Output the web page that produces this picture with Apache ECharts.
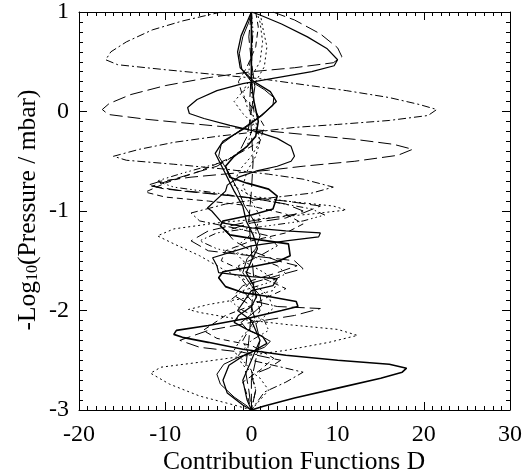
<!DOCTYPE html>
<html>
<head>
<meta charset="utf-8">
<script src="https://cdn.jsdelivr.net/npm/echarts@6/dist/echarts.min.js"></script>
<style>
html,body{margin:0;padding:0;background:#fff;}
#c{width:532px;height:476px;}
</style>
</head>
<body>
<div id="c"></div>
<script>
// ---- data: [x (contribution), y (-log10 pressure)] ----
const xTicks = [-20, -10, 0, 10, 20, 30];
const yTicks = [-3, -2, -1, 0, 1];

const solidA = [[0,-3],[1.5,-2.96],[5,-2.88],[10,-2.78],[15,-2.68],[17.5,-2.62],[18,-2.58],[16,-2.54],[10,-2.5],[4,-2.45],[-1,-2.39],[-5,-2.32],[-8,-2.27],[-9,-2.24],[-8.7,-2.2],[-5,-2.15],[0,-2.07],[3.5,-2.0],[5.4,-1.96],[5.2,-1.91],[2,-1.86],[-1,-1.82],[-3,-1.76],[-3.8,-1.67],[-3.3,-1.61],[0,-1.56],[3,-1.51],[4.5,-1.45],[4.3,-1.33],[1,-1.29],[-2.5,-1.24],[-3.6,-1.15],[-3.3,-1.1],[0,-1.04],[2.5,-0.98],[3,-0.85],[2,-0.78],[-0.5,-0.72],[-2.5,-0.66],[-3,-0.55],[-2,-0.45],[-0.5,-0.35],[0.5,-0.25],[0.8,-0.1],[0.3,0.1],[0,0.3],[0,1]];
const solidB = [[0,1],[1,0.97],[3.5,0.88],[6.5,0.75],[8.8,0.63],[10,0.52],[9.6,0.46],[7,0.4],[3,0.34],[-1,0.28],[-4,0.21],[-6.3,0.12],[-7.4,0.04],[-7.2,-0.02],[-5.5,-0.07],[-2.5,-0.14],[0.5,-0.2],[3,-0.27],[4.6,-0.35],[5,-0.45],[4.6,-0.5],[3,-0.55],[0.5,-0.6],[-1.5,-0.66],[-2.8,-0.74],[-3,-0.8],[-5.1,-0.97],[-4.6,-1.0],[-3.4,-1.12],[0,-1.17],[4,-1.2],[8,-1.22],[7.8,-1.26],[4,-1.3],[0,-1.35],[-4.5,-1.47],[-4,-1.55],[-3.8,-1.62],[0,-1.66],[3,-1.68],[2.5,-1.75],[0,-1.8],[-1.6,-2.0],[0,-2.1],[1,-2.3],[0,-2.5],[-1,-2.7],[-0.5,-2.9],[0,-3]];
const solidC = [[0,-3],[-0.5,-2.96],[-2,-2.87],[-3.6,-2.74],[-4,-2.64],[-3.2,-2.54],[-1.5,-2.47],[0,-2.42],[1.5,-2.37],[2.2,-2.31],[1,-2.25],[-0.5,-2.19],[-1.2,-2.12],[0,-2.04],[1.2,-1.95],[1,-1.85],[0,-1.75],[-1,-1.62],[-0.5,-1.48],[0.5,-1.38],[1,-1.25],[0.3,-1.1],[-0.8,-0.95],[-1.5,-0.8],[-2.6,-0.62],[-3.8,-0.45],[-3.5,-0.33],[-1.5,-0.2],[0.8,-0.06],[2.5,0.06],[2.6,0.14],[1.5,0.22],[0,0.3],[-1.1,0.42],[-1.4,0.58],[-1.0,0.75],[-0.3,0.9],[0,1]];
const solidD = [[0,-3],[-1,-2.95],[-2.8,-2.83],[-3.3,-2.7],[-2.6,-2.55],[-1,-2.46],[0.4,-2.4],[1.8,-2.33],[1.3,-2.26],[-0.3,-2.2],[-2,-2.12],[-1.5,-2.05],[0,-1.96],[0.6,-1.86],[0.2,-1.74],[-0.6,-1.62],[0,-1.5],[0.7,-1.38],[0.2,-1.24],[-0.6,-1.1],[-1,-0.95],[-2,-0.8],[-2.8,-0.66],[-4.2,-0.42],[-3.3,-0.3],[-1,-0.18],[1.2,-0.04],[2.9,0.1],[2.2,0.2],[0.3,0.3],[-1.3,0.44],[-1.6,0.6],[-1.2,0.76],[-0.4,0.92],[0,1]];
const longDashA = [[2.5,1],[5,0.92],[8,0.78],[10,0.64],[10.5,0.55],[9.5,0.49],[5,0.44],[0,0.4],[-5,0.34],[-10,0.26],[-14,0.17],[-16.5,0.08],[-17.3,0.02],[-16.6,-0.03],[-12,-0.08],[-6,-0.13],[0,-0.18],[6,-0.23],[12,-0.28],[16.5,-0.33],[18.7,-0.38],[17,-0.44],[12,-0.5],[6,-0.55],[2,-0.59],[-2,-0.62],[-7,-0.66],[-10.5,-0.7],[-12,-0.74],[-10,-0.78],[-5,-0.82],[0,-0.87],[4,-0.93],[6,-1.0],[4,-1.07],[0,-1.12],[-3,-1.2],[-2,-1.3],[0,-1.4],[3,-1.5],[5.3,-1.55],[3,-1.62],[0,-1.7],[-1,-1.8],[0,-1.9],[3,-1.96],[8,-1.98],[5,-2.05],[0,-2.12],[-5,-2.2],[-8.3,-2.3],[-6,-2.37],[-1,-2.42],[3.4,-2.5],[2,-2.58],[0,-2.65],[0.5,-2.8],[0,-3]];
const dashDotA = [[-3.5,1],[-5.5,0.96],[-8,0.91],[-11.5,0.82],[-14.5,0.7],[-16.3,0.6],[-16.9,0.52],[-15.5,0.47],[-10,0.42],[-4,0.37],[1,0.33],[6,0.27],[11,0.21],[16,0.14],[19.5,0.07],[21.5,0.02],[20.5,-0.04],[16,-0.09],[10,-0.13],[5,-0.16],[1,-0.2],[-4,-0.25],[-9,-0.31],[-13,-0.38],[-16,-0.45],[-14.5,-0.49],[-9,-0.53],[-3,-0.58],[2,-0.63],[6,-0.68],[9.5,-0.76],[7,-0.82],[2,-0.87],[-3,-0.93],[-7,-1.02],[-6,-1.1],[-2,-1.17],[2,-1.25],[3,-1.35],[1,-1.45],[-1.5,-1.55],[-1,-1.7],[0.5,-1.85],[1,-2.0],[0,-2.15],[-1,-2.3],[0,-2.5],[3,-2.56],[6,-2.62],[4,-2.72],[1.5,-2.82],[0,-3]];
const dashB = [[0.5,1],[0.8,0.85],[0.5,0.65],[-0.5,0.45],[-1.5,0.3],[-1,0.15],[0.5,0],[1.5,-0.15],[1,-0.3],[-2,-0.45],[-6,-0.6],[-10,-0.72],[-12.3,-0.81],[-10,-0.86],[-5,-0.9],[0,-0.95],[4,-1.03],[6,-1.13],[4,-1.22],[0,-1.3],[-3,-1.4],[-3.5,-1.5],[-1,-1.6],[2,-1.7],[4,-1.78],[2,-1.86],[0,-1.95],[-3,-2.05],[-5.6,-2.2],[-4,-2.28],[0,-2.35],[2.6,-2.48],[1,-2.6],[-1,-2.72],[-0.5,-2.85],[0,-3]];
const dashC = [[0,1],[-0.3,0.75],[0,0.5],[0.4,0.25],[0,0],[-0.5,-0.25],[-1.5,-0.42],[-4,-0.55],[-9,-0.68],[-11.5,-0.75],[-8,-0.8],[-2,-0.85],[4,-0.9],[8,-0.95],[6,-1.02],[0,-1.1],[-5,-1.2],[-7,-1.3],[-5,-1.4],[0,-1.45],[5,-1.5],[6,-1.58],[3,-1.65],[-1,-1.75],[-2,-1.85],[0,-1.95],[1,-2.3],[0,-2.7],[0,-3]];
const dotA = [[0,-3],[-2,-2.95],[-6,-2.86],[-9.5,-2.74],[-11.7,-2.63],[-10.5,-2.57],[-6,-2.52],[-1,-2.46],[4,-2.4],[9,-2.32],[12.3,-2.25],[10,-2.19],[4,-2.14],[-2,-2.08],[-6,-2.02],[-7.3,-1.99],[-5,-1.94],[-1,-1.88],[2.5,-1.8],[3,-1.72],[1.5,-1.62],[-1,-1.5],[-2,-1.4],[-1,-1.3],[0.5,-1.2],[1,-1.05],[0,-0.9],[-1,-0.75],[-0.5,-0.6],[0.5,-0.45],[1,-0.3],[0.5,-0.1],[-0.5,0.05],[-1,0.2],[0,0.35],[1,0.5],[1.3,0.7],[1,0.9],[0.6,1]];
const dotB = [[0,-3],[1,-2.9],[2,-2.8],[1,-2.68],[-1,-2.55],[-2,-2.4],[-1,-2.25],[1,-2.1],[2.5,-1.98],[2,-1.85],[0,-1.72],[-3,-1.6],[-6,-1.45],[-9,-1.33],[-10.9,-1.25],[-9,-1.18],[-4,-1.12],[2,-1.07],[7,-1.03],[11,-0.99],[9.5,-0.95],[4,-0.9],[0,-0.85],[-2,-0.75],[-1.5,-0.6],[0,-0.45],[1,-0.3],[0.5,-0.15],[-1,-0.02],[-2,0.1],[-1,0.2],[0.5,0.3],[1.5,0.45],[1.8,0.65],[1.3,0.85],[1,1]];
const dashDotDotA = [[0,1],[0.2,0.8],[0,0.6],[-0.3,0.4],[0,0.2],[0.3,0],[0,-0.2],[-0.5,-0.35],[-3,-0.5],[-8,-0.62],[-11,-0.7],[-9,-0.76],[-4,-0.82],[2,-0.9],[7,-0.98],[8.5,-1.04],[6,-1.1],[1,-1.16],[-4,-1.22],[-6,-1.3],[-4,-1.38],[0,-1.45],[3,-1.55],[4,-1.63],[2,-1.72],[-1,-1.8],[-2.5,-1.9],[-1,-2.0],[1.5,-2.1],[2,-2.2],[0,-2.3],[-1.5,-2.45],[0,-2.6],[0.5,-2.8],[0,-3]];
const longDashV = [[0,1],[0.1,0.7],[0,0.4],[-0.2,0.1],[0,-0.2],[0.2,-0.5],[0,-0.8],[-0.3,-1.1],[0,-1.4],[0.3,-1.7],[0,-2],[-0.3,-2.3],[-0.7,-2.6],[-0.3,-2.8],[0,-3]];

const SOLID = 'solid';
const DOT = [2, 3];
const DASH = [6, 4];
const LDASH = [13, 5];
const DDOT = [8, 3, 2, 3];
const DDDOT = [7, 3, 1.5, 3, 1.5, 3, 1.5, 3];

const curves = [
  {d: solidA, t: SOLID, w: 1.6},
  {d: solidB, t: SOLID, w: 1.2},
  {d: solidC, t: SOLID, w: 1},
  {d: solidD, t: SOLID, w: 1.3},
  {d: longDashA, t: LDASH, w: 1},
  {d: dashDotA, t: DDOT, w: 1},
  {d: dashB, t: DASH, w: 1},
  {d: dashC, t: LDASH, w: 1},
  {d: dotA, t: DOT, w: 1},
  {d: dotB, t: DOT, w: 1},
  {d: dashDotDotA, t: DDDOT, w: 1},
  {d: longDashV, t: LDASH, w: 1}
];

const FONT = '"Liberation Serif", "Times New Roman", serif';
function axisCommon(showLabel, margin) {
  return {
    type: 'value',
    axisLine: {show: true, onZero: false, lineStyle: {color: '#000', width: 1}},
    axisTick: {show: true, inside: true, length: 8, lineStyle: {color: '#000', width: 1}},
    minorTick: {show: true, splitNumber: 10, length: 4, lineStyle: {color: '#000', width: 1}},
    splitLine: {show: false},
    minorSplitLine: {show: false},
    axisLabel: {show: showLabel, fontFamily: FONT, fontSize: 24, color: '#000', margin: margin}
  };
}

const chart = echarts.init(document.getElementById('c'), null, {renderer: 'canvas'});
chart.setOption({
  animation: false,
  backgroundColor: '#fff',
  grid: {left: 79, right: 22, top: 10, bottom: 66, containLabel: false},
  xAxis: [
    Object.assign(axisCommon(true, 13), {position: 'bottom', min: xTicks[0], max: xTicks[xTicks.length - 1], interval: 10}),
    Object.assign(axisCommon(false, 8), {position: 'top', min: xTicks[0], max: xTicks[xTicks.length - 1], interval: 10})
  ],
  yAxis: [
    Object.assign(axisCommon(true, 10), {position: 'left', min: yTicks[0], max: yTicks[yTicks.length - 1], interval: 1}),
    Object.assign(axisCommon(false, 8), {position: 'right', min: yTicks[0], max: yTicks[yTicks.length - 1], interval: 1})
  ],
  series: curves.map(c => ({
    type: 'line',
    data: c.d,
    xAxisIndex: 0,
    yAxisIndex: 0,
    symbol: 'none',
    smooth: false,
    clip: true,
    lineStyle: {color: '#000', width: c.w, type: c.t}
  })),
  graphic: [
    {
      type: 'text', x: 294, y: 462,
      style: {text: 'Contribution Functions D', font: '25.5px ' + FONT, fill: '#000', textAlign: 'center', textVerticalAlign: 'middle'}
    },
    {
      type: 'text', x: 28, y: 210, rotation: Math.PI / 2,
      style: {
        text: '-Log{s|10}(Pressure / mbar)',
        font: '25.5px ' + FONT, fill: '#000', textAlign: 'center', textVerticalAlign: 'middle',
        rich: {s: {fontSize: 16, fontFamily: FONT, verticalAlign: 'bottom', padding: [9, 0, 0, 0]}}
      }
    }
  ]
});
</script>
</body>
</html>
